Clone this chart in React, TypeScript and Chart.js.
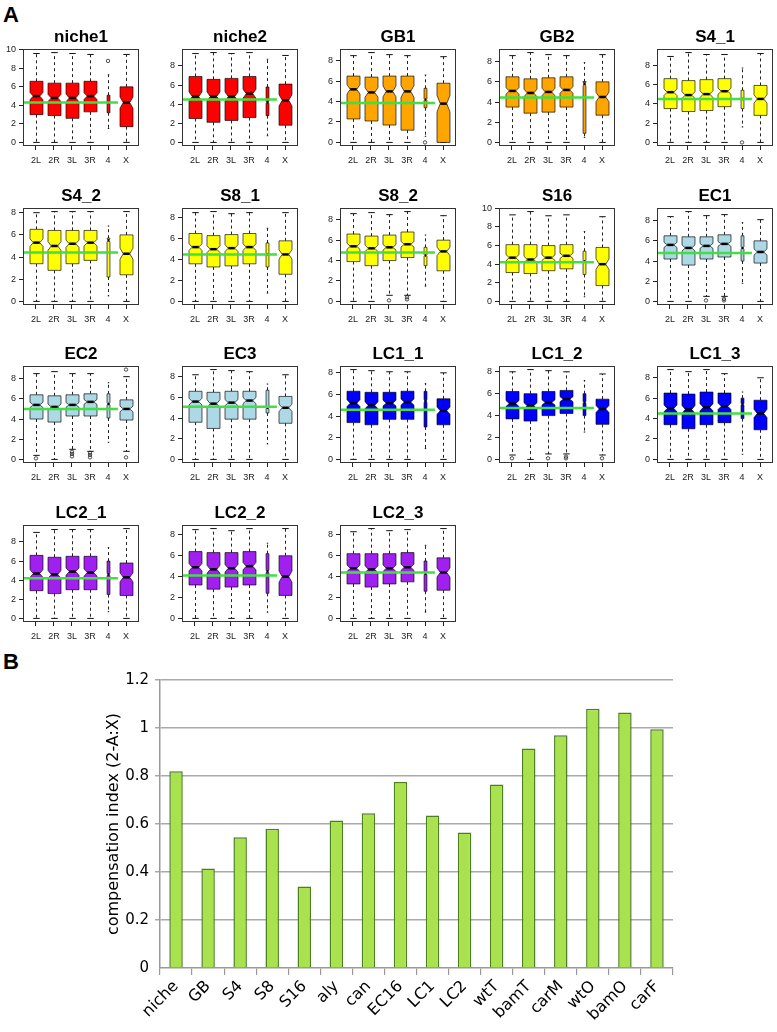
import React, { useEffect, useRef } from "react";
import { Chart, registerables } from "chart.js";

Chart.register(...registerables);

// ---------- Panel A data ----------
const CHROMS = ["2L", "2R", "3L", "3R", "4", "X"];
const Y_TICKS = [0, 2, 4, 6, 8, 10];

const PANEL_NAMES = [
  "niche1", "niche2", "GB1", "GB2", "S4_1",
  "S4_2", "S8_1", "S8_2", "S16", "EC1",
  "EC2", "EC3", "LC1_1", "LC1_2", "LC1_3",
  "LC2_1", "LC2_2", "LC2_3",
];

const PANEL_COLORS = [
  "#ff0000", "#ff0000", "#ffa500", "#ffa500", "#ffff00",
  "#ffff00", "#ffff00", "#ffff00", "#ffff00", "#add8e6",
  "#add8e6", "#add8e6", "#0000ff", "#0000ff", "#0000ff",
  "#a020f0", "#a020f0", "#a020f0",
];

// green reference line (autosome level) per panel
const PANEL_LINE = [
  4.3, 4.5, 3.85, 4.45, 4.5,
  4.4, 4.5, 4.8, 4.2, 4.8,
  5.0, 5.1, 4.6, 4.7, 4.5,
  4.2, 4.1, 4.4,
];

// five-number summaries per chromosome: [low whisker, Q1, median, Q3, high whisker]
const niche1 = [[0, 3.0, 5.0, 6.6, 9.6], [0, 2.9, 4.8, 6.4, 9.7], [0, 2.6, 4.8, 6.4, 9.6], [0, 3.3, 5.0, 6.6, 9.5], [1.5, 3.2, 4.3, 5.1, 7.3], [0, 1.7, 4.3, 6.0, 9.5]];
const niche2 = [[0, 2.5, 4.8, 6.9, 9.3], [0, 2.1, 4.8, 6.6, 9.4], [0, 2.3, 4.8, 6.7, 9.3], [0, 2.6, 5.1, 6.9, 9.4], [0.7, 2.8, 4.2, 5.8, 8.7], [0, 1.8, 4.4, 6.1, 9.1]];
const GB1 = [[0, 2.3, 5.2, 6.5, 8.5], [0, 2.1, 4.9, 6.4, 8.8], [0, 1.7, 5.0, 6.5, 8.6], [0, 1.2, 5.0, 6.5, 8.5], [0.6, 3.4, 4.2, 5.3, 6.6], [0, 0, 3.8, 5.8, 8.4]];
const GB2 = [[0, 3.5, 5.1, 6.5, 8.6], [0, 2.9, 4.9, 6.3, 8.9], [0, 3.0, 5.0, 6.4, 8.7], [0, 3.5, 5.2, 6.5, 8.6], [0.5, 0.9, 5.8, 6.0, 7.9], [0, 2.7, 4.5, 6.0, 8.7]];
const S4_1 = [[0, 3.5, 5.2, 6.6, 8.9], [0, 3.2, 4.9, 6.4, 9.3], [0, 3.3, 5.0, 6.5, 9.1], [0, 3.7, 5.3, 6.6, 9.1], [1.6, 3.5, 4.5, 5.4, 7.7], [0, 2.8, 4.5, 5.9, 9.2]];
const S4_2 = [[0, 3.4, 5.3, 6.5, 8.0], [0, 2.8, 5.0, 6.4, 8.1], [0, 3.4, 5.2, 6.4, 8.1], [0, 3.7, 5.3, 6.4, 8.1], [0.5, 2.2, 5.5, 5.7, 6.8], [0, 2.4, 4.3, 6.0, 8.1]];
const S8_1 = [[0, 3.6, 5.2, 6.5, 8.5], [0, 3.3, 5.0, 6.3, 8.6], [0, 3.4, 5.1, 6.4, 8.4], [0, 3.6, 5.2, 6.5, 8.5], [0.8, 3.3, 4.5, 5.6, 7.0], [0, 2.6, 4.5, 5.8, 8.5]];
const S8_2 = [[0, 3.9, 5.4, 6.6, 8.6], [0, 3.5, 5.2, 6.4, 8.7], [0.6, 4.0, 5.3, 6.5, 8.5], [0.6, 4.3, 5.6, 6.8, 8.8], [1.5, 3.5, 4.5, 5.3, 6.5], [0, 3.0, 4.9, 6.0, 8.4]];
const S16 = [[0, 3.1, 4.7, 6.1, 9.3], [0, 3.0, 4.5, 6.1, 9.65], [0, 3.3, 4.7, 6.0, 9.2], [0, 3.5, 4.9, 6.1, 9.3], [0.5, 2.9, 4.3, 5.4, 7.5], [0, 1.7, 4.0, 5.8, 9.1]];
const EC1 = [[0, 4.2, 5.6, 6.5, 8.4], [0, 3.6, 5.3, 6.4, 8.9], [0.5, 4.2, 5.5, 6.4, 8.5], [0.5, 4.4, 5.7, 6.6, 8.6], [1.8, 4.0, 5.3, 6.5, 7.8], [0, 3.8, 4.9, 6.0, 8.1]];
const EC2 = [[0.4, 4.0, 5.4, 6.4, 8.5], [0, 3.7, 5.2, 6.3, 8.7], [1.0, 4.3, 5.4, 6.4, 8.5], [0.8, 4.3, 5.7, 6.5, 8.5], [1.7, 4.1, 5.5, 6.5, 7.6], [0.8, 3.9, 5.0, 5.9, 8.2]];
const EC3 = [[0, 3.6, 5.6, 6.6, 8.2], [0, 3.0, 5.4, 6.5, 8.7], [0, 3.9, 5.5, 6.6, 8.6], [0, 3.9, 5.7, 6.6, 8.5], [1.5, 4.5, 5.0, 6.7, 7.3], [0, 3.5, 5.0, 6.1, 8.2]];
const LC1_1 = [[0, 3.4, 5.2, 6.3, 8.3], [0, 3.2, 5.0, 6.2, 8.2], [0, 3.7, 5.2, 6.2, 8.1], [0, 3.7, 5.3, 6.3, 8.1], [1.0, 3.0, 5.4, 6.3, 7.0], [0, 3.2, 4.5, 5.6, 8.0]];
const LC1_2 = [[0.4, 3.7, 5.1, 6.2, 8.0], [0, 3.5, 4.9, 6.0, 8.2], [0.5, 4.0, 5.2, 6.2, 8.1], [0.5, 4.2, 5.5, 6.3, 8.0], [2.5, 4.0, 5.2, 6.0, 7.2], [0.4, 3.2, 4.6, 5.5, 7.8]];
const LC1_3 = [[0, 3.4, 5.0, 6.5, 8.8], [0, 3.0, 4.9, 6.4, 8.6], [0, 3.4, 5.1, 6.6, 8.8], [0, 3.6, 5.2, 6.5, 8.4], [0.5, 4.0, 5.4, 6.0, 6.6], [0, 2.9, 4.5, 5.8, 8.0]];
const LC2_1 = [[0, 2.9, 4.7, 6.6, 9.0], [0, 2.6, 4.6, 6.4, 9.3], [0, 3.0, 4.9, 6.5, 9.3], [0, 3.0, 4.8, 6.5, 9.3], [0.7, 2.5, 4.6, 6.0, 7.4], [0, 2.4, 4.3, 5.8, 9.4]];
const LC2_2 = [[0, 3.2, 4.9, 6.4, 8.5], [0, 2.8, 4.7, 6.3, 8.6], [0, 3.0, 4.8, 6.3, 8.4], [0, 3.2, 5.0, 6.4, 8.6], [0.6, 2.4, 4.5, 6.2, 7.2], [0, 2.2, 4.0, 6.0, 8.6]];
const LC2_3 = [[0, 3.3, 4.8, 6.2, 8.3], [0, 3.0, 4.7, 6.2, 8.6], [0, 3.3, 4.8, 6.2, 8.4], [0, 3.5, 4.9, 6.3, 8.5], [0.6, 2.6, 4.3, 5.5, 7.0], [0, 2.7, 4.4, 5.8, 8.6]];

const PANEL_STATS = [
  niche1, niche2, GB1, GB2, S4_1,
  S4_2, S8_1, S8_2, S16, EC1,
  EC2, EC3, LC1_1, LC1_2, LC1_3,
  LC2_1, LC2_2, LC2_3,
];

// outliers per panel: [chromosome index, value]
const PANEL_OUTLIERS: number[][][] = [
  [[4, 8.8]], [], [[4, 0]], [], [[4, 0]],
  [], [], [[2, 0.1], [3, 0.2], [3, 0.4]], [], [[2, 0.1], [3, 0.1], [3, 0.25]],
  [[0, 0.1], [2, 0.3], [2, 0.55], [2, 0.75], [3, 0.2], [3, 0.45], [3, 0.65], [5, 0.2], [5, 8.9]], [], [], [[0, 0.1], [2, 0.1], [3, 0.1], [3, 0.25], [5, 0.1]], [],
  [], [], [],
];

// ---------- Panel B data ----------
const BAR_LABELS = ["niche", "GB", "S4", "S8", "S16", "aly", "can", "EC16", "LC1", "LC2", "wtT", "bamT", "carM", "wtO", "bamO", "carF"];
const BAR_VALUES = [0.82, 0.415, 0.545, 0.58, 0.34, 0.615, 0.645, 0.775, 0.635, 0.565, 0.765, 0.915, 0.97, 1.08, 1.065, 0.995];
const BAR_Y_TICKS = [0, 0.2, 0.4, 0.6, 0.8, 1, 1.2];

// ---------- styles / layout ----------
const BOX_WIDTHS = [0.72, 0.72, 0.72, 0.72, 0.16, 0.72];
const NOTCH_FRAC = [0.11, 0.11, 0.11, 0.11, 0.05, 0.14];
const GREEN_SPAN = [-0.7, 4.55];
const X_MIN = -0.72;
const X_MAX = 5.72;
const PLOT_W = 116;
const PLOT_H = 97;
const AXIS_W = 30;
const TITLE_H = 25;
const XAXIS_H = 24;
const PAD_R = 6;
const CANVAS_W = AXIS_W + PLOT_W + PAD_R;
const CANVAS_H = TITLE_H + PLOT_H + XAXIS_H;
const SANS = "'Liberation Sans', Arial, Helvetica, sans-serif";
const BAR_FONT = "'DejaVu Sans', Verdana, sans-serif";

function BoxPanel({ index }: { index: number }) {
  const ref = useRef<HTMLCanvasElement>(null);
  const col = index % 5;
  const row = Math.floor(index / 5);
  const plotLeft = Math.round(23 + 158.5 * col);
  const plotTop = Math.round(49 + 158.7 * row);

  useEffect(() => {
    const stats = PANEL_STATS[index];
    const outliers = PANEL_OUTLIERS[index];
    const color = PANEL_COLORS[index];
    let M = 0;
    stats.forEach((s) => s.forEach((v) => (M = Math.max(M, v))));
    outliers.forEach((o) => (M = Math.max(M, o[1])));

    const boxPlugin = {
      id: "rbox",
      beforeDatasetsDraw(chart: any) {
        const { ctx } = chart;
        const x = chart.scales.x;
        const y = chart.scales.y;
        const Y = (v: number) => y.getPixelForValue(v);
        ctx.save();
        stats.forEach((s, i) => {
          const [lo, q1, med, q3, hi] = s;
          const xc = Math.round(x.getPixelForValue(i)) + 0.5;
          const hw = x.getPixelForValue(i + BOX_WIDTHS[i] / 2) - x.getPixelForValue(i);
          const nd = NOTCH_FRAC[i] * (q3 - q1);
          // whiskers
          ctx.strokeStyle = "#222";
          ctx.lineWidth = 1;
          ctx.setLineDash([3, 3]);
          ctx.beginPath();
          ctx.moveTo(xc, Y(q3));
          ctx.lineTo(xc, Y(hi));
          ctx.moveTo(xc, Y(q1));
          ctx.lineTo(xc, Y(lo));
          ctx.stroke();
          ctx.setLineDash([]);
          // staples
          ctx.strokeStyle = "#111";
          ctx.beginPath();
          ctx.moveTo(xc - hw / 2, Y(hi));
          ctx.lineTo(xc + hw / 2, Y(hi));
          ctx.moveTo(xc - hw / 2, Y(lo));
          ctx.lineTo(xc + hw / 2, Y(lo));
          ctx.stroke();
          // notched box
          ctx.beginPath();
          ctx.moveTo(xc - hw, Y(q1));
          ctx.lineTo(xc - hw, Y(med - nd));
          ctx.lineTo(xc - hw / 2, Y(med));
          ctx.lineTo(xc - hw, Y(med + nd));
          ctx.lineTo(xc - hw, Y(q3));
          ctx.lineTo(xc + hw, Y(q3));
          ctx.lineTo(xc + hw, Y(med + nd));
          ctx.lineTo(xc + hw / 2, Y(med));
          ctx.lineTo(xc + hw, Y(med - nd));
          ctx.lineTo(xc + hw, Y(q1));
          ctx.closePath();
          ctx.fillStyle = color;
          ctx.fill();
          ctx.strokeStyle = "rgba(0,0,0,0.65)";
          ctx.lineWidth = 1;
          ctx.stroke();
          // median
          ctx.strokeStyle = "#000";
          ctx.lineWidth = 2.5;
          ctx.beginPath();
          ctx.moveTo(xc - hw / 2, Y(med));
          ctx.lineTo(xc + hw / 2, Y(med));
          ctx.stroke();
        });
        ctx.lineWidth = 0.8;
        ctx.strokeStyle = "#222";
        outliers.forEach(([i, v]) => {
          ctx.beginPath();
          ctx.arc(x.getPixelForValue(i), Y(v), 1.7, 0, Math.PI * 2);
          ctx.stroke();
        });
        ctx.restore();
      },
      afterDraw(chart: any) {
        const { ctx, chartArea } = chart;
        ctx.save();
        ctx.strokeStyle = "#333";
        ctx.lineWidth = 1;
        ctx.strokeRect(
          Math.round(chartArea.left) + 0.5,
          Math.round(chartArea.top) + 0.5,
          Math.round(chartArea.right - chartArea.left) - 1,
          Math.round(chartArea.bottom - chartArea.top) - 1
        );
        ctx.restore();
      },
    };

    const chart = new Chart(ref.current as HTMLCanvasElement, {
      type: "scatter",
      data: {
        datasets: [
          {
            data: [
              { x: GREEN_SPAN[0], y: PANEL_LINE[index] },
              { x: GREEN_SPAN[1], y: PANEL_LINE[index] },
            ],
            showLine: true,
            borderColor: "#3fe03f",
            borderWidth: 2.5,
            pointRadius: 0,
          },
        ],
      },
      options: {
        responsive: false,
        animation: false,
        devicePixelRatio: 1,
        layout: { padding: { top: 0, right: PAD_R, bottom: 0, left: 0 } },
        plugins: {
          legend: { display: false },
          tooltip: { enabled: false },
          title: {
            display: true,
            text: PANEL_NAMES[index],
            fullSize: false,
            color: "#000",
            font: { size: 17, weight: "bold", family: SANS, lineHeight: 1 },
            padding: { top: 5, bottom: 3 },
          },
        },
        scales: {
          x: {
            type: "linear",
            min: X_MIN,
            max: X_MAX,
            afterBuildTicks: (s: any) => {
              s.ticks = CHROMS.map((_, i) => ({ value: i }));
            },
            afterFit: (s: any) => {
              s.height = XAXIS_H;
            },
            ticks: {
              autoSkip: false,
              maxRotation: 0,
              color: "#222",
              padding: 5,
              font: { size: 9, family: SANS },
              callback: (v: any) => CHROMS[Number(v)],
            },
            grid: { drawOnChartArea: false, tickLength: 4, color: "#222" },
            border: { display: false },
          },
          y: {
            type: "linear",
            min: -0.04 * M,
            max: 1.04 * M,
            afterBuildTicks: (s: any) => {
              s.ticks = Y_TICKS.filter((v) => v <= s.max).map((v) => ({ value: v }));
            },
            afterFit: (s: any) => {
              s.width = AXIS_W;
            },
            ticks: {
              color: "#222",
              padding: 3,
              font: { size: 9, family: SANS },
            },
            grid: { drawOnChartArea: false, tickLength: 4, color: "#222" },
            border: { display: false },
          },
        },
      },
      plugins: [boxPlugin],
    } as any);
    return () => chart.destroy();
  }, [index]);

  return (
    <canvas
      ref={ref}
      width={CANVAS_W}
      height={CANVAS_H}
      style={{
        position: "absolute",
        left: plotLeft - AXIS_W,
        top: plotTop - TITLE_H,
        width: CANVAS_W,
        height: CANVAS_H,
      }}
    />
  );
}

const BAR_LEFT = 0;
const BAR_TOP = 660;
const BAR_W = 777;
const BAR_H = 372;

function BarPanel() {
  const ref = useRef<HTMLCanvasElement>(null);
  useEffect(() => {
    const chart = new Chart(ref.current as HTMLCanvasElement, {
      type: "bar",
      data: {
        labels: BAR_LABELS,
        datasets: [
          {
            data: BAR_VALUES,
            backgroundColor: "#a8e34f",
            borderColor: "#4e7d22",
            borderWidth: 1.5,
            barPercentage: 0.42,
            categoryPercentage: 1,
          },
        ],
      },
      options: {
        responsive: false,
        animation: false,
        devicePixelRatio: 1,
        layout: { padding: { top: 20, right: 104, bottom: 0, left: 104 } },
        plugins: { legend: { display: false }, tooltip: { enabled: false } },
        scales: {
          x: {
            afterFit: (s: any) => {
              s.height = 64;
            },
            ticks: {
              autoSkip: false,
              minRotation: 45,
              maxRotation: 45,
              color: "#000",
              padding: 2,
              font: { size: 16, family: BAR_FONT },
            },
            grid: { offset: true, drawOnChartArea: false, tickLength: 7, color: "#999", lineWidth: 1.2 },
            border: { color: "#999", width: 1.5 },
          },
          y: {
            min: 0,
            max: 1.2,
            afterBuildTicks: (s: any) => {
              s.ticks = BAR_Y_TICKS.map((v) => ({ value: v }));
            },
            afterFit: (s: any) => {
              s.width = 56;
            },
            ticks: {
              color: "#000",
              padding: 6,
              font: { size: 15, family: BAR_FONT },
              callback: (v: any) => String(Math.round(Number(v) * 10) / 10),
            },
            grid: {
              color: (c: any) => (c.tick && c.tick.value === 0 ? "rgba(0,0,0,0)" : "#aaa"),
              lineWidth: 1.5,
              tickLength: 5,
            },
            border: { color: "#999", width: 1.5 },
            title: {
              display: true,
              text: "compensation index (2-A:X)",
              color: "#000",
              padding: { top: 0, bottom: 0 },
              font: { size: 16, family: BAR_FONT },
            },
          },
        },
      },
    } as any);
    return () => chart.destroy();
  }, []);
  return (
    <canvas
      ref={ref}
      width={BAR_W}
      height={BAR_H}
      style={{ position: "absolute", left: BAR_LEFT, top: BAR_TOP, width: BAR_W, height: BAR_H }}
    />
  );
}

export default function App() {
  return (
    <div
      style={{
        position: "absolute",
        left: 0,
        top: 0,
        width: 777,
        height: 1032,
        background: "#fff",
        overflow: "hidden",
        fontFamily: SANS,
      }}
    >
      <div style={{ position: "absolute", left: 3, top: 4, fontSize: 22, fontWeight: "bold", lineHeight: "22px" }}>A</div>
      {PANEL_NAMES.map((_, i) => (
        <BoxPanel key={i} index={i} />
      ))}
      <div style={{ position: "absolute", left: 3, top: 651, fontSize: 22, fontWeight: "bold", lineHeight: "22px" }}>B</div>
      <BarPanel />
    </div>
  );
}
